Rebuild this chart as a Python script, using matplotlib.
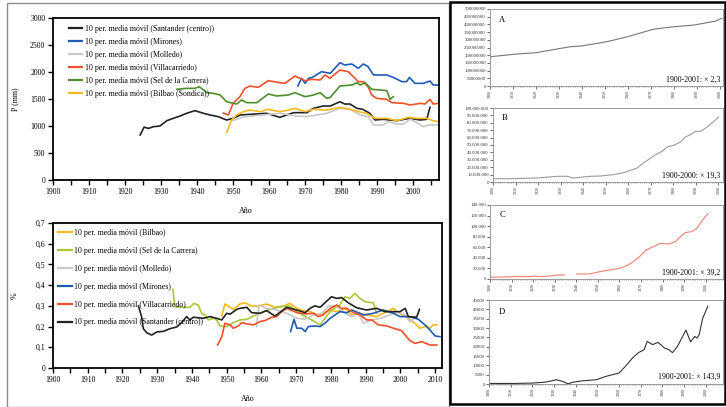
import matplotlib
matplotlib.use("Agg")
import matplotlib.pyplot as plt
from matplotlib.patches import Rectangle
from matplotlib.ticker import FuncFormatter, MultipleLocator
import numpy as np

plt.rcParams['font.family'] = ['Liberation Serif', 'DejaVu Serif']

W, H = 726, 407

# --- Precipitation, 10-year moving average (mm) ---
p_santander_years = [1924.2, 1925.3, 1926.5, 1927.9, 1929.7, 1931.6, 1933.4, 1935.3, 1937.1, 1939.4,
                     1941.8, 1943.6, 1945.9, 1948.2, 1950, 1952, 1954.7, 1959.3, 1963, 1966.8, 1970.5,
                     1972.3, 1975, 1977, 1979.7, 1981, 1982.5, 1984.4, 1986, 1988, 1989.4, 1991.7,
                     1995.5, 1999, 2002, 2003.8, 2004.7]
p_santander = [833, 980, 955, 987, 1000, 1098, 1142, 1185, 1235, 1284,
               1235, 1204, 1173, 1111, 1142, 1204, 1216, 1235, 1160, 1247, 1247,
               1327, 1370, 1370, 1450, 1407, 1407, 1327, 1309, 1235, 1111, 1124,
               1098, 1142, 1111, 1124, 1346]

p_mirones_years = [1968, 1969, 1970, 1971, 1972, 1974.6, 1977, 1979.7, 1981, 1983, 1984.8, 1986.2,
                   1987.5, 1989, 1992.7, 1994.5, 1996.9, 1998.2, 1999, 2000.5, 2002.8, 2004.7,
                   2005.6, 2007]
p_mirones = [1741, 1883, 1790, 1883, 1900, 2006, 1975, 2173, 2130, 2148, 2068, 2148,
             2099, 1945, 1945, 1900, 1821, 1821, 1900, 1790, 1790, 1833,
             1759, 1759]

p_molledo_years = [1950, 1953, 1956, 1959.8, 1963, 1967.7, 1970.5, 1973.3, 1976, 1979.7, 1982.5,
                   1985.3, 1987.6, 1989, 1991.7, 1993, 1995.5, 1997.3, 1999.2, 2001, 2002.9,
                   2004.3, 2007]
p_molledo = [1100, 1170, 1190, 1215, 1235, 1185, 1173, 1204, 1235, 1327, 1309,
             1204, 1173, 1019, 1019, 1080, 1037, 1037, 1124, 1062, 987,
             1019, 1019]

p_villacarriedo_years = [1947.3, 1948.7, 1950, 1951.9, 1953.3, 1954.7, 1957, 1959.8, 1963, 1964.4,
                         1967.2, 1968.6, 1970, 1971.9, 1974.2, 1975.6, 1976.9, 1979.7, 1982,
                         1984.8, 1986.2, 1987.6, 1988.5, 1989.9, 1992.7, 1994.1, 1997.3, 1999.2,
                         2002, 2003.3, 2004.7, 2005.6, 2007]
p_villacarriedo = [1240, 1204, 1420, 1543, 1697, 1740, 1716, 1839, 1802, 1790,
                   1926, 1883, 1839, 1864, 1852, 1945, 1883, 2037, 2006,
                   1821, 1821, 1716, 1574, 1512, 1494, 1432, 1420, 1389,
                   1420, 1407, 1494, 1407, 1420]

p_sel_years = [1934.4, 1937, 1939.4, 1940.6, 1941.8, 1942.7, 1944.5, 1946.4, 1948.2, 1950, 1951,
               1952.4, 1953.8, 1956.6, 1959.8, 1962.1, 1965.4, 1967.2, 1970, 1972.3, 1974.2,
               1976, 1977, 1979.7, 1983, 1984.4, 1985.3, 1986.7, 1988.5, 1990.8, 1992.7,
               1993.6, 1994.5]
p_sel = [1680, 1697, 1697, 1728, 1667, 1617, 1605, 1574, 1450, 1420, 1407,
         1482, 1432, 1432, 1593, 1556, 1574, 1617, 1543, 1574, 1617,
         1512, 1530, 1740, 1760, 1802, 1760, 1802, 1680, 1667, 1655,
         1494, 1543]

p_bilbao_years = [1948.2, 1949.6, 1951, 1952.9, 1954.7, 1957.5, 1959.8, 1963, 1965.4, 1967.2, 1970,
                  1972.3, 1976, 1979.7, 1982.5, 1984.8, 1987.1, 1989.4, 1992.7, 1995.5, 1998.7,
                  2001, 2003.8, 2005.6, 2007]
p_bilbao = [876, 1111, 1204, 1266, 1296, 1266, 1309, 1266, 1296, 1327, 1266,
            1309, 1296, 1346, 1309, 1266, 1235, 1142, 1142, 1098, 1160,
            1142, 1142, 1098, 1080]

# --- Ratio series, 10-year moving average ---
r_bilbao_years = [1948.6, 1949.5, 1951, 1951.9, 1953.8, 1955.3, 1957.2, 1959.1, 1961.5, 1963.9,
                  1966.3, 1968.2, 1970.2, 1972.1, 1974, 1976.4, 1977.8, 1979.8, 1981.7, 1984.1,
                  1986, 1988.4, 1990.3, 1993.2, 1995.1, 1998, 1999.4, 2001.8, 2004.2, 2005.7,
                  2007.6, 2008.5, 2009.5, 2010.5]
r_bilbao = [0.251, 0.309, 0.293, 0.283, 0.309, 0.315, 0.299, 0.299, 0.309, 0.293,
            0.299, 0.312, 0.288, 0.277, 0.272, 0.256, 0.264, 0.280, 0.272, 0.288,
            0.256, 0.264, 0.256, 0.248, 0.264, 0.288, 0.267, 0.245, 0.216, 0.192,
            0.203, 0.192, 0.208, 0.208]

r_sel_years = [1934.5, 1935.1, 1936.6, 1939.4, 1940.6, 1941.8, 1942.8, 1943.8, 1944.7, 1946.2,
               1947.1, 1948.1, 1950, 1951.9, 1953.8, 1955.8, 1957.7, 1960.6, 1963.4, 1965.8,
               1968.2, 1970.2, 1972.6, 1974.5, 1976.9, 1978.3, 1980.2, 1982.6, 1984.1, 1985.5,
               1986.9, 1988.4, 1989.8, 1992.2, 1993.2]
r_sel = [0.380, 0.296, 0.293, 0.293, 0.312, 0.304, 0.264, 0.256, 0.232, 0.240,
         0.232, 0.203, 0.200, 0.219, 0.232, 0.235, 0.251, 0.272, 0.288, 0.296,
         0.299, 0.272, 0.248, 0.232, 0.208, 0.240, 0.280, 0.304, 0.344, 0.336,
         0.360, 0.336, 0.320, 0.315, 0.264]

r_molledo_years = [1958.6, 1959.3, 1961.5, 1964.5, 1967.3, 1970.2, 1972.6, 1975, 1977.4, 1979.3,
                   1981.7, 1984.1, 1986, 1987.9, 1989.4, 1991.8, 1994.2, 1997, 1999, 2001.4,
                   2002.8, 2004.2]
r_molledo = [0.200, 0.304, 0.288, 0.280, 0.264, 0.240, 0.235, 0.256, 0.264, 0.299,
             0.299, 0.264, 0.248, 0.264, 0.216, 0.232, 0.240, 0.256, 0.272, 0.256,
             0.222, 0.245]

r_mirones_years = [1968.4, 1969.4, 1970.2, 1971.6, 1972.6, 1973.5, 1975.4, 1976.9, 1978.3, 1979.8,
                   1981.2, 1982.6, 1984.6, 1986, 1987.9, 1989.4, 1992.2, 1995.1, 1998, 1999.9,
                   2002.8, 2005.2, 2007.1, 2008.5, 2010, 2011.4]
r_mirones = [0.176, 0.235, 0.192, 0.192, 0.176, 0.200, 0.203, 0.200, 0.216, 0.240,
             0.256, 0.272, 0.267, 0.280, 0.267, 0.256, 0.264, 0.280, 0.264, 0.248,
             0.248, 0.235, 0.208, 0.184, 0.155, 0.151]

r_villacarriedo_years = [1947.4, 1948.6, 1949.5, 1951, 1951.9, 1953.4, 1954.3, 1955.8, 1957.7,
                         1959.6, 1961, 1963, 1964.4, 1965.8, 1967.3, 1970.2, 1972.6, 1975, 1976.4,
                         1977.8, 1979.8, 1981.7, 1983.1, 1984.6, 1986.5, 1988.4, 1990.3, 1991.8,
                         1993.7, 1996.1, 1998, 2000.4, 2001.8, 2002.8, 2004.2, 2006.2, 2008.5,
                         2010.5]
r_villacarriedo = [0.111, 0.151, 0.216, 0.208, 0.192, 0.203, 0.219, 0.213, 0.208,
                   0.224, 0.229, 0.245, 0.248, 0.272, 0.288, 0.267, 0.261, 0.264, 0.248,
                   0.256, 0.288, 0.304, 0.288, 0.288, 0.267, 0.256, 0.232, 0.232,
                   0.208, 0.203, 0.192, 0.180, 0.151, 0.132, 0.119, 0.127, 0.111,
                   0.111]

r_santander_years = [1924.6, 1925.5, 1926, 1927, 1928.4, 1929.9, 1931.8, 1933.7, 1935.6, 1937,
                     1938.5, 1939.4, 1940.4, 1943.3, 1945.2, 1947.1, 1948.6, 1950, 1951, 1952.9,
                     1953.8, 1955.8, 1957.2, 1959.6, 1961.5, 1963.9, 1967.3, 1970.2, 1972.6, 1974,
                     1975.4, 1976.9, 1978.3, 1980.2, 1981.7, 1983.1, 1985, 1987.4, 1990.3, 1993.2,
                     1995.6, 1998, 1999.9, 2001.4, 2002.3, 2004.7, 2005.5]
r_santander = [0.299, 0.248, 0.190, 0.170, 0.159, 0.174, 0.177, 0.190, 0.198, 0.219,
               0.248, 0.232, 0.245, 0.240, 0.248, 0.240, 0.232, 0.264, 0.260, 0.283,
               0.288, 0.293, 0.267, 0.264, 0.277, 0.251, 0.293, 0.280, 0.267, 0.288,
               0.300, 0.293, 0.315, 0.344, 0.336, 0.340, 0.315, 0.291, 0.280, 0.288,
               0.272, 0.272, 0.272, 0.288, 0.248, 0.245, 0.283]

# --- Growth series, 1900-2001 ---
a_years = [1900, 1912, 1920, 1931, 1935, 1940, 1951, 1960, 1971, 1980, 1989, 1998.5, 2001]
a_values = [190e6, 208e6, 216e6, 245e6, 255e6, 260e6, 288e6, 320e6, 368e6, 385e6, 396e6, 422e6, 440e6]

b_years = [1900, 1907.5, 1910.5, 1919.4, 1925.3, 1928.3, 1932.8, 1935.7, 1938.7, 1943.1, 1947.6,
           1953.5, 1958, 1961, 1963.9, 1966.8, 1969.8, 1972, 1975, 1977.2, 1980.1, 1983.1, 1985.3,
           1987.6, 1989.8, 1992, 1995, 1998, 2000]
b_values = [4.5e6, 4.4e6, 4.7e6, 5.4e6, 6.8e6, 7.7e6, 7.7e6, 5.4e6, 6.4e6, 7.7e6, 8.1e6,
            9.9e6, 12.6e6, 15.8e6, 18.9e6, 26e6, 32e6, 36.9e6, 41.4e6, 47.3e6, 49.5e6, 54e6,
            60.8e6, 64e6, 68.5e6, 68.5e6, 74.3e6, 82e6, 87.8e6]

c_years = [1900, 1912, 1918, 1921, 1923, 1928, 1931, 1934.5, 1936, 1940, 1946, 1951, 1955, 1960,
           1963, 1965.3, 1969, 1972, 1975, 1979, 1983, 1986, 1988, 1990.5, 1993.5, 1996, 1998, 2001]
c_values = [3200, 4400, 4400, 5700, 4400, 5700, 7600, 7600, np.nan, 9500, 9500, 13900, 17000,
            20000, 24600, 29600, 41000, 53600, 60000, 67500, 66300, 70700, 79000, 87800, 89700,
            96000, 108600, 123500]

d_years = [1900, 1912, 1920, 1926, 1929, 1931, 1934, 1936.5, 1938.5, 1943, 1949.5, 1954, 1957,
           1960, 1963, 1966.2, 1969, 1971.6, 1973, 1975.5, 1978, 1981, 1983, 1984.7, 1987,
           1990.9, 1993, 1995, 1996, 1997, 1998.6, 2001]
d_values = [290, 300, 500, 1000, 1700, 2300, 1400, 100, 900, 1700, 2300, 4100, 5000,
            5900, 9500, 13900, 16800, 18400, 22800, 21100, 22300, 19300, 18400, 16800, 20200,
            28900, 22600, 25500, 24600, 26400, 35100, 41700]

panel_notes = ['1900-2001: × 2,3', '1900-2000: × 19,3', '1900-2001: × 39,2', '1900-2001: × 143,9']

C_BLACK = '#222222'
C_BLUE = '#1f5cb5'
C_GRAY = '#c8c8c8'
C_RED = '#f2502a'
C_GREEN = '#4d8f2e'
C_LIME = '#a6c93a'
C_YELLOW = '#f9b81f'

LW = 1.2


def px_axes(fig, left, top, right, bottom):
    return fig.add_axes([left / W, 1 - bottom / H, (right - left) / W, (bottom - top) / H])


def style_left(ax):
    for s in ax.spines.values():
        s.set_linewidth(1.3)
        s.set_color('black')
    ax.tick_params(axis='both', which='both', direction='out', length=3.5, width=1.0,
                   labelsize=5.6, pad=2)
    ax.xaxis.set_major_locator(MultipleLocator(10))
    ax.xaxis.set_minor_locator(MultipleLocator(5))


fig = plt.figure(figsize=(W / 100, H / 100), dpi=100)

# outer frames
fig.add_artist(Rectangle((7 / W, 0), (449 - 7) / W, (H - 3) / H, transform=fig.transFigure,
                         fill=False, edgecolor='#8c8c8c', linewidth=1.0))
fig.add_artist(Rectangle((450 / W, 3 / H), (725 - 450) / W, (H - 5) / H, transform=fig.transFigure,
                         fill=False, edgecolor='black', linewidth=1.8, zorder=10))

# precipitation chart
ax1 = px_axes(fig, 53, 18, 439, 180)
ax1.plot(p_santander_years, p_santander, color=C_BLACK, lw=LW, label='10 per. media móvil (Santander (centro))')
ax1.plot(p_mirones_years, p_mirones, color=C_BLUE, lw=LW, label='10 per. media móvil (Mirones)')
ax1.plot(p_molledo_years, p_molledo, color=C_GRAY, lw=LW, label='10 per. media móvil (Molledo)')
ax1.plot(p_villacarriedo_years, p_villacarriedo, color=C_RED, lw=LW, label='10 per. media móvil (Villacarriedo)')
ax1.plot(p_sel_years, p_sel, color=C_GREEN, lw=LW, label='10 per. media móvil (Sel de la Carrera)')
ax1.plot(p_bilbao_years, p_bilbao, color=C_YELLOW, lw=LW, label='10 per. media móvil (Bilbao (Sondica))')
ax1.set_xlim(1900, 2007.2)
ax1.set_ylim(0, 3000)
ax1.yaxis.set_major_locator(MultipleLocator(500))
ax1.set_xticks(range(1900, 2001, 10))
style_left(ax1)
ax1.set_ylabel('P (mm)', fontsize=5.8, labelpad=8)
ax1.set_xlabel('Año', fontsize=5.8, labelpad=8)
leg1 = ax1.legend(loc='upper left', bbox_to_anchor=(69 / W, 1 - 25 / H), bbox_transform=fig.transFigure,
                  frameon=False, fontsize=5.7, handlelength=1.7, handletextpad=0.3, labelspacing=0.62,
                  borderpad=0, borderaxespad=0)
for h in leg1.get_lines():
    h.set_linewidth(1.6)

# ratio chart
ax2 = px_axes(fig, 53, 223, 442, 368)
ax2.plot(r_bilbao_years, r_bilbao, color=C_YELLOW, lw=LW, label='10 per. media móvil (Bilbao)')
ax2.plot(r_sel_years, r_sel, color=C_LIME, lw=LW, label='10 per. media móvil (Sel de la Carrera)')
ax2.plot(r_molledo_years, r_molledo, color=C_GRAY, lw=LW, label='10 per. media móvil (Molledo)')
ax2.plot(r_mirones_years, r_mirones, color=C_BLUE, lw=LW, label='10 per. media móvil (Mirones)')
ax2.plot(r_villacarriedo_years, r_villacarriedo, color=C_RED, lw=LW, label='10 per. media móvil (Villacarriedo)')
ax2.plot(r_santander_years, r_santander, color=C_BLACK, lw=LW, label='10 per. media móvil (Santander (centro))')
ax2.set_xlim(1900, 2012)
ax2.set_ylim(0, 0.7)
ax2.yaxis.set_major_locator(MultipleLocator(0.1))
ax2.yaxis.set_major_formatter(FuncFormatter(lambda v, p: '0' if abs(v) < 1e-9 else f'{v:.1f}'.replace('.', ',')))
ax2.set_xticks(range(1900, 2011, 10))
style_left(ax2)
ax2.set_ylabel('%', fontsize=5.8, labelpad=12)
ax2.set_xlabel('Año', fontsize=5.8, labelpad=8)
leg2 = ax2.legend(loc='upper left', bbox_to_anchor=(58 / W, 1 - 229 / H), bbox_transform=fig.transFigure,
                  frameon=False, fontsize=5.7, handlelength=1.8, handletextpad=0.2, labelspacing=1.25,
                  borderpad=0, borderaxespad=0)
for h in leg2.get_lines():
    h.set_linewidth(1.6)

# growth panels
panels = [
    ('A', (490, 9, 723, 86), a_years, a_values, '#777777', (1900, 2001.5), 50e6, 500e6, False),
    ('B', (493, 108, 723, 182), b_years, b_values, '#9a9a9a', (1900, 2002), 10e6, 100e6, True),
    ('C', (490, 205, 723, 279), c_years, c_values, '#f08070', (1900, 2008), 20000, 140000, True),
    ('D', (489, 300, 723, 384), d_years, d_values, '#333333', (1900, 2008), 5000, 45000, False),
]
for (letter, box, xs, ys, col, xl, step, top, dotted), note in zip(panels, panel_notes):
    ax = px_axes(fig, *box)
    ax.plot(xs, ys, color=col, lw=0.8)
    ax.set_xlim(*xl)
    ax.set_ylim(0, top)
    ax.set_yticks(np.arange(0, top + step / 2, step))
    if dotted:
        ax.yaxis.set_major_formatter(FuncFormatter(lambda v, p: f'{int(round(v)):,}'.replace(',', '.')))
    else:
        ax.yaxis.set_major_formatter(FuncFormatter(lambda v, p: f'{int(round(v))}'))
    ax.set_xticks(range(1900, 2001, 10))
    ax.xaxis.set_minor_locator(MultipleLocator(1))
    for s in ax.spines.values():
        s.set_color('#9a9a9a')
        s.set_linewidth(0.7)
    ax.tick_params(axis='y', labelsize=3.5, length=2, width=0.5, pad=1, colors='#333333')
    ax.tick_params(axis='x', labelsize=3.0, length=2, width=0.5, pad=1, labelrotation=90,
                   colors='#333333')
    ax.tick_params(axis='x', which='minor', length=1, width=0.4, colors='#555555')
    ax.text(0.04, 0.86, letter, transform=ax.transAxes, fontsize=6.2, va='center', ha='left')
    ax.text(0.99, 0.08, note, transform=ax.transAxes, fontsize=5.7, va='center', ha='right')

fig.savefig('out.png', dpi=100)
